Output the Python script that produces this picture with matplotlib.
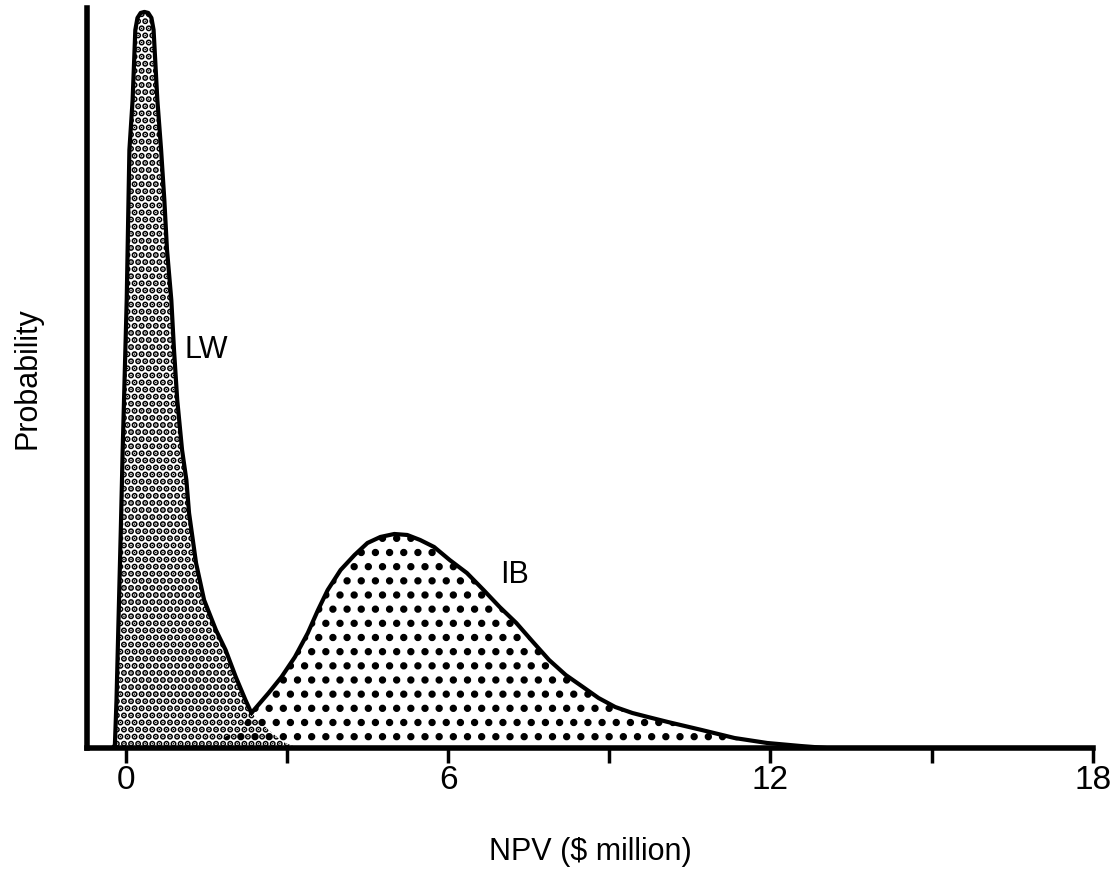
import matplotlib
matplotlib.use('Agg')
import matplotlib.pyplot as plt
import numpy as np

# hatch cell size follows dpi, so draw at 85 dpi and scale point sizes to match
DPI = 85
k = 100.0 / DPI

plt.rcParams['font.family'] = ['Liberation Sans', 'DejaVu Sans']
plt.rcParams['hatch.linewidth'] = 3.2 * k

# NPV distributions (x in $ million, y in arbitrary probability units)
lw_x = [-0.24, -0.20, -0.17, -0.09, -0.055, 0.02, 0.07, 0.13, 0.18, 0.22, 0.28, 0.35,
        0.42, 0.48, 0.52, 0.59, 0.66, 0.72, 0.77, 0.85, 0.90, 0.96, 1.05, 1.13, 1.18,
        1.31, 1.46, 1.68, 1.86, 2.05, 2.23, 2.34, 2.66, 2.93, 3.21]
lw_y = [0.0, 0.03, 0.48, 2.18, 2.98, 4.48, 5.98, 6.48, 7.18, 7.30, 7.35, 7.36,
        7.35, 7.30, 7.18, 6.48, 5.98, 5.48, 4.98, 4.48, 3.98, 3.48, 2.98, 2.68, 2.35,
        1.85, 1.48, 1.18, 0.98, 0.71, 0.48, 0.35, 0.18, 0.06, 0.0]

ib_x = [1.37, 1.64, 1.92, 2.20, 2.34, 2.42, 2.66, 2.90, 3.15, 3.39, 3.58, 3.76, 4.00,
        4.26, 4.50, 4.74, 5.00, 5.24, 5.48, 5.74, 6.03, 6.35, 6.66, 6.96, 7.27, 7.58,
        7.88, 8.19, 8.51, 8.80, 9.11, 9.43, 9.72, 10.09, 10.72, 11.33, 11.94, 12.56,
        13.04]
ib_y = [0.0, 0.05, 0.13, 0.25, 0.35, 0.40, 0.55, 0.71, 0.91, 1.15, 1.38, 1.58, 1.78,
        1.93, 2.05, 2.11, 2.14, 2.13, 2.08, 2.01, 1.88, 1.75, 1.58, 1.41, 1.25, 1.06,
        0.88, 0.73, 0.61, 0.50, 0.41, 0.35, 0.31, 0.26, 0.18, 0.10, 0.05, 0.02, 0.0]

x_ticks = [0, 3, 6, 9, 12, 15, 18]
x_labels = ['0', '', '6', '', '12', '', '18']

fig = plt.figure(figsize=(1119 / DPI, 880 / DPI), dpi=DPI)
ax = fig.add_axes([0.0777, 0.15, 0.899, 0.841])

# dotted fills (fine dots for LW, coarse dots for IB)
ax.fill_between(lw_x, 0, lw_y, facecolor='none', edgecolor='k', hatch='..', linewidth=0)
ax.fill_between(ib_x, 0, ib_y, facecolor='none', edgecolor='k', hatch='.', linewidth=0)

# outline only along the upper envelope, split at the crossing point
i_lw = lw_x.index(2.34)
i_ib = ib_x.index(2.34)
ax.plot(lw_x[:i_lw + 1], lw_y[:i_lw + 1], color='k', lw=3.0 * k,
        solid_capstyle='round', solid_joinstyle='round')
ax.plot(ib_x[i_ib:], ib_y[i_ib:], color='k', lw=3.0 * k,
        solid_capstyle='round', solid_joinstyle='round')

ax.text(1.1, 3.98, 'LW', fontsize=22 * k, ha='left', va='center')
ax.text(6.96, 1.73, 'IB', fontsize=22 * k, ha='left', va='center')

ax.set_xlim(-0.72, 18)
ax.set_ylim(0, 7.4)
ax.set_xticks(x_ticks)
ax.set_xticklabels(x_labels, fontsize=24 * k)
ax.set_yticks([])
ax.tick_params(axis='x', direction='out', length=11 * k, width=2.5 * k, pad=1 * k)
for s in ['top', 'right']:
    ax.spines[s].set_visible(False)
ax.spines['left'].set_linewidth(4 * k)
ax.spines['bottom'].set_linewidth(4 * k)
ax.spines['bottom'].set_bounds(-0.72, 18)

ax.set_xlabel('NPV ($ million)', fontsize=22 * k, labelpad=30 * k)
ax.set_ylabel('Probability', fontsize=22 * k, labelpad=32 * k)

plt.savefig('out.png', dpi=DPI)
